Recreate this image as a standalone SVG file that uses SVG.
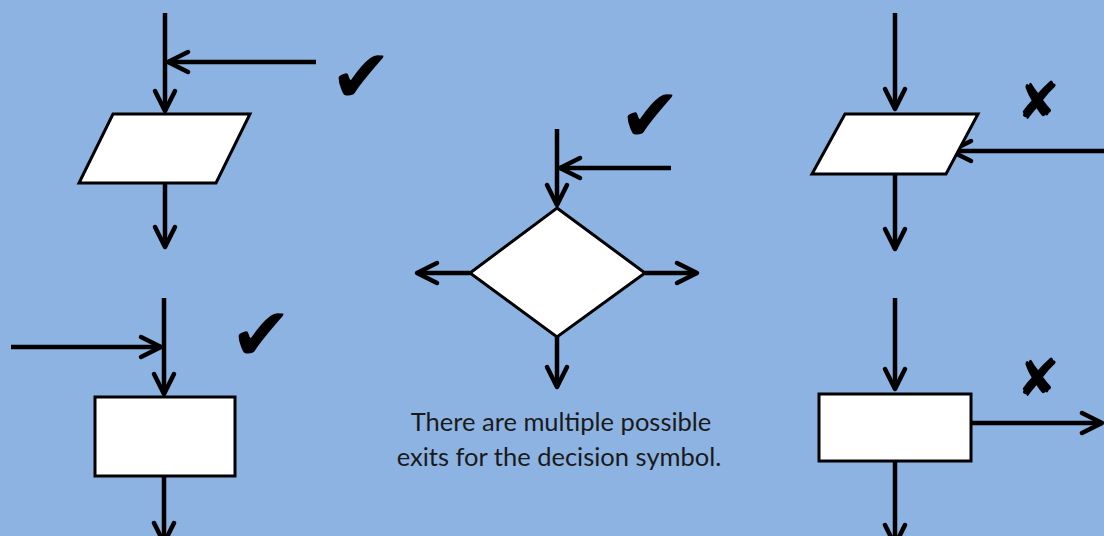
<svg xmlns="http://www.w3.org/2000/svg" width="1104" height="536" viewBox="0 0 1104 536">
<defs>
<marker id="ah" viewBox="-24 -14 28 28" refX="0" refY="0" markerWidth="28" markerHeight="28" markerUnits="userSpaceOnUse" orient="auto">
<path d="M -20 -10 L 0 0 L -20 10" fill="none" stroke="#000" stroke-width="4.5" stroke-linecap="round" stroke-linejoin="round"/>
</marker>
<style>
.c{stroke:#000;stroke-width:4.5;fill:none;marker-end:url(#ah)}
.s{fill:#fff;stroke:#000;stroke-width:3}
.mk{font-family:"DejaVu Sans",sans-serif;fill:#000;text-anchor:middle}
.ck{font-size:74px}
.x{font-size:52px}
.t{font-family:Lato,"Open Sans",sans-serif;font-size:25.5px;fill:#1a1a1a;text-anchor:middle}
</style>
</defs>
<rect width="1104" height="536" fill="#8db3e2"/>
<g id="connectors">
<line class="c" x1="165" y1="13" x2="165" y2="111"/>
<line class="c" x1="316" y1="62" x2="168" y2="62"/>
<line class="c" x1="165" y1="183" x2="165" y2="247"/>
<line class="c" x1="164" y1="298" x2="164" y2="394"/>
<line class="c" x1="11" y1="347" x2="161" y2="347"/>
<line class="c" x1="164" y1="476" x2="164" y2="543"/>
<line class="c" x1="557" y1="129" x2="557" y2="205"/>
<line class="c" x1="671" y1="168" x2="560" y2="168"/>
<line class="c" x1="470" y1="273" x2="417" y2="273"/>
<line class="c" x1="645" y1="273" x2="697" y2="273"/>
<line class="c" x1="557" y1="337" x2="557" y2="387"/>
<line class="c" x1="895" y1="13" x2="895" y2="109"/>
<line class="c" x1="1106" y1="151" x2="951" y2="151"/>
<line class="c" x1="895" y1="174" x2="895" y2="249"/>
<line class="c" x1="895" y1="298" x2="895" y2="389"/>
<line class="c" x1="971" y1="423" x2="1102" y2="423"/>
<line class="c" x1="895" y1="461" x2="895" y2="545"/>
</g>
<g id="io-left"><polygon class="s" points="113,114 250,114 216,183 79,183"/></g>
<g id="process-left"><rect class="s" x="95" y="397" width="140" height="79"/></g>
<g id="decision"><polygon class="s" points="557,208 645,273 557,337 470,273"/></g>
<g id="io-right"><polygon class="s" points="845,114 978,114 946,174 812,174"/></g>
<g id="process-right"><rect class="s" x="819" y="394" width="152" height="67"/></g>
<g id="marks">
<text class="mk ck" x="361" y="102">✔</text>
<text class="mk ck" x="261" y="360">✔</text>
<text class="mk ck" x="650" y="141">✔</text>
<text class="mk x" x="1038" y="119">✘</text>
<text class="mk x" x="1038" y="396">✘</text>
</g>
<g id="caption">
<text class="t" x="561" y="431">There are multiple possible</text>
<text class="t" x="559" y="466">exits for the decision symbol.</text>
</g>
</svg>
